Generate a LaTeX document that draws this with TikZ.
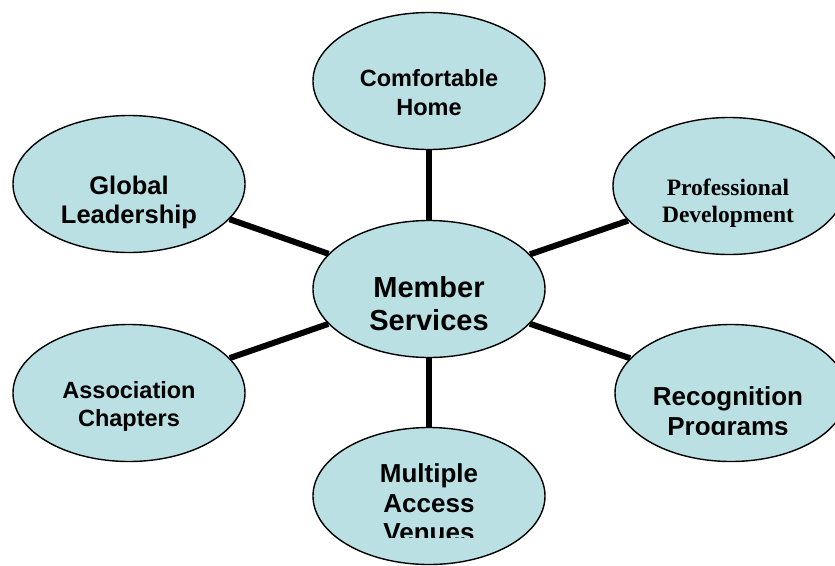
\documentclass[tikz,border=0pt]{standalone}
\usepackage{fontspec}
\setmainfont{Liberation Serif}
\setsansfont{Liberation Sans}
\usetikzlibrary{shapes.geometric}
\definecolor{bubblefill}{RGB}{186,224,227}
\tikzset{
  bubble/.style={ellipse, draw, line width=1.4pt, fill=bubblefill,
    minimum width=232pt, minimum height=137pt, inner sep=0pt},
  spoke/.style={line width=6pt},
  caption/.style={align=center, font=\sffamily\bfseries}
}

\begin{document}
\begin{tikzpicture}[x=1pt,y=-1pt]
\useasboundingbox (0,0) rectangle (835,565);
\clip (0,0) rectangle (835,565);
% the bubbles
\node[bubble] (ms) at (429,289) {};
\node[bubble] (home) at (429,81) {};
\node[bubble] (venues) at (429,496) {};
\node[bubble] (lead) at (129,184) {};
\node[bubble] (chap) at (129,393) {};
\node[bubble] (prof) at (729,186) {};
\node[bubble] (recog) at (731,393) {};
% spokes from the hub
\foreach \n in {home,venues,lead,chap,prof,recog} {
    \draw[spoke] (ms) -- (\n);
}
% texts
\node[caption, font=\sffamily\bfseries\fontsize{29}{33}\selectfont] (ms-t) at (429,304) {Member\\Services};
\node[caption, font=\sffamily\bfseries\fontsize{23.5}{29}\selectfont] (home-t) at (429,93) {Comfortable\\Home};
\node[caption, font=\sffamily\bfseries\fontsize{25.5}{29}\selectfont] (lead-t) at (129,202) {Global\\Leadership};
\node[caption, font=\sffamily\bfseries\fontsize{23.5}{28}\selectfont] (chap-t) at (129,406) {Association\\Chapters};
\node[caption, font=\rmfamily\bfseries\fontsize{23.5}{27}\selectfont] (prof-t) at (728,203) {Professional\\Development};
\begin{scope}
\clip (600,360) rectangle (835,434);
\node[caption, font=\sffamily\bfseries\fontsize{26}{30}\selectfont] (recog-t) at (728,414) {Recognition\\Programs};
\end{scope}
\begin{scope}
\clip (300,440) rectangle (560,537);
\node[caption, font=\sffamily\bfseries\fontsize{26}{29.5}\selectfont] (venues-t) at (429,503) {Multiple\\Access\\Venues};
\end{scope}
\end{tikzpicture}
\end{document}
